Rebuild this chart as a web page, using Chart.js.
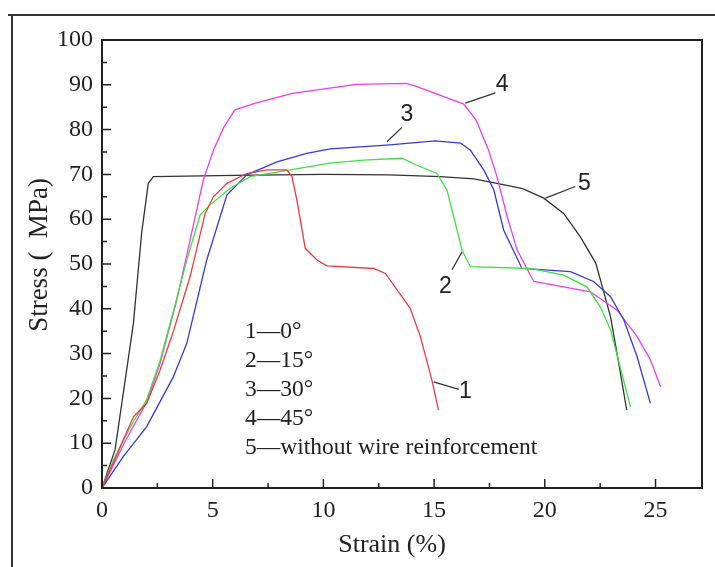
<!DOCTYPE html>
<html lang="en">
<head>
    <meta charset="UTF-8">
    <title>Stress - Strain</title>
    <script src="https://cdn.jsdelivr.net/npm/chart.js"></script>
    <style>
        body { margin: 0; background: #fff; }
        #wrap { width: 715px; height: 567px; }
    </style>
</head>
<body>
    <div id="wrap">
        <canvas id="stressChart" width="715" height="567"></canvas>
    </div>

    <script>
        // Axis ticks
        var xTicks = [0, 5, 10, 15, 20, 25];
        var yTicks = [0, 10, 20, 30, 40, 50, 60, 70, 80, 90, 100];

        // Curve 1 - 0 deg
        var strain1 = [0, 0.5, 0.96, 1.42, 2.02, 2.62, 3.22, 3.98, 4.66, 5.03, 5.64, 6.54, 7.45, 8.35, 8.58, 8.8, 9.18, 9.71, 10.16, 12.27, 12.8, 13.92, 14.38, 14.9, 15.2];
        var stress1 = [0, 5.5, 10.7, 15.9, 18.9, 26.3, 34.9, 47.2, 61.3, 65.0, 68.0, 70.2, 71.0, 71.0, 69.5, 64.3, 53.5, 50.9, 49.6, 49.0, 47.9, 40.1, 33.8, 24.1, 17.4];

        // Curve 2 - 15 deg
        var strain2 = [0, 0.5, 1.0, 1.5, 2.0, 2.6, 3.2, 3.83, 4.43, 4.88, 5.79, 6.69, 8.5, 10.3, 11.8, 13.55, 14.2, 15.13, 15.58, 15.96, 16.26, 16.64, 19.35, 20.85, 21.9, 22.5, 22.97, 23.4, 23.87];
        var stress2 = [0, 6, 11, 15.5, 19.5, 28, 39, 50.9, 60.9, 63.2, 66.9, 69.5, 71.0, 72.5, 73.2, 73.6, 72.1, 70.2, 66.5, 59.1, 53.1, 49.4, 49.0, 47.5, 44.9, 40.5, 35.3, 27.1, 18.1];

        // Curve 3 - 30 deg
        var strain3 = [0, 0.96, 2.02, 3.22, 3.83, 4.73, 5.64, 6.54, 7.9, 9.25, 10.3, 13.0, 15.05, 16.2, 16.64, 17.24, 17.7, 18.14, 18.97, 21.16, 22.2, 22.97, 23.57, 24.17, 24.77];
        var stress3 = [0, 7.0, 13.7, 24.8, 32.3, 50.9, 65.4, 69.9, 72.8, 74.7, 75.7, 76.6, 77.5, 77.0, 75.4, 71.0, 66.5, 57.6, 49.0, 48.3, 46.1, 42.7, 37.5, 29.3, 18.9];

        // Curve 4 - 45 deg
        var strain4 = [0, 0.5, 1.0, 2.0, 2.62, 3.38, 3.98, 4.58, 5.03, 5.5, 6.0, 6.94, 8.6, 11.48, 13.74, 14.17, 16.34, 16.9, 17.46, 17.84, 18.3, 18.75, 19.5, 20.85, 22.06, 23.27, 24.17, 24.77, 25.23];
        var stress4 = [0, 5, 10, 19, 27.8, 42, 55.4, 68.8, 75.4, 80.5, 84.4, 85.9, 88.1, 90.1, 90.3, 89.7, 85.7, 82.1, 75.4, 69.5, 60.6, 53.1, 46.1, 44.9, 43.8, 39.7, 33.8, 28.6, 22.6];

        // Curve 5 - without wire reinforcement
        var strain5 = [0, 0.59, 1.42, 1.79, 2.09, 2.32, 6, 10, 13, 15.28, 16.8, 17.84, 19.0, 19.95, 20.85, 21.6, 22.3, 22.6, 22.97, 23.34, 23.7];
        var stress5 = [0, 8.5, 36.8, 56.9, 68.0, 69.5, 69.8, 70.0, 69.9, 69.5, 69.0, 68.0, 66.8, 64.7, 61.3, 56.1, 50.2, 44.9, 38.2, 27.8, 17.4];

        var curveColors = ['#f0393c', '#3fe03f', '#3838e0', '#f03cf0', '#333333'];

        // In-plot legend text
        var legendLines = ['1\u20140\u00b0', '2\u201415\u00b0', '3\u201430\u00b0', '4\u201445\u00b0', '5\u2014without wire reinforcement'];

        // Curve number labels: [label, labelX, labelY, lineFromX, lineFromY, lineToX, lineToY] in data units
        var curveLabels = [
            ['1', 16.41, 21.4, 14.98, 23.7, 16.11, 22.0],
            ['2', 15.51, 44.9, 16.26, 52.7, 15.81, 48.7],
            ['3', 13.77, 83.3, 12.87, 77.3, 13.55, 80.5],
            ['4', 18.07, 90.0, 16.41, 85.9, 17.77, 88.2],
            ['5', 21.79, 68.0, 20.03, 64.7, 21.38, 67.3]
        ];

        function toPoints(xs, ys) {
            return xs.map(function (x, i) { return { x: x, y: ys[i] }; });
        }

        var seriesX = [strain1, strain2, strain3, strain4, strain5];
        var seriesY = [stress1, stress2, stress3, stress4, stress5];

        var datasets = seriesX.map(function (xs, i) {
            return {
                label: legendLines[i],
                data: toPoints(xs, seriesY[i]),
                showLine: true,
                borderColor: curveColors[i],
                borderWidth: 1.3,
                pointRadius: 0,
                tension: 0,
                fill: false
            };
        });

        // Outer frame, plot box, inward ticks, axis titles, legend text and curve labels
        var decorPlugin = {
            id: 'decor',
            beforeDraw: function (chart) {
                var ctx = chart.ctx;
                ctx.save();
                ctx.strokeStyle = '#333';
                ctx.lineWidth = 2;
                ctx.beginPath();
                ctx.moveTo(8, 15);
                ctx.lineTo(715, 15);
                ctx.moveTo(12, 15);
                ctx.lineTo(12, 567);
                ctx.stroke();
                ctx.restore();
            },
            afterDatasetsDraw: function (chart) {
                var ctx = chart.ctx;
                var area = chart.chartArea;
                var xs = chart.scales.x;
                var ys = chart.scales.y;
                ctx.save();

                // plot box
                ctx.strokeStyle = '#222';
                ctx.lineWidth = 2;
                ctx.strokeRect(area.left, area.top, area.right - area.left, area.bottom - area.top);

                // inward ticks
                ctx.lineWidth = 1.5;
                ctx.beginPath();
                for (var v = 0; v <= xs.max; v += 2.5) {
                    var px = xs.getPixelForValue(v);
                    var len = (v % 5 === 0) ? 9 : 5;
                    ctx.moveTo(px, area.bottom);
                    ctx.lineTo(px, area.bottom - len);
                }
                for (var w = 0; w <= ys.max; w += 5) {
                    var py = ys.getPixelForValue(w);
                    var len2 = (w % 10 === 0) ? 9 : 5;
                    ctx.moveTo(area.left, py);
                    ctx.lineTo(area.left + len2, py);
                }
                ctx.stroke();

                ctx.fillStyle = '#222';
                ctx.textBaseline = 'middle';

                // axis titles
                ctx.textAlign = 'center';
                ctx.font = '26px "Liberation Serif"';
                ctx.fillText('Strain (%)', area.left + 290, 545);
                ctx.save();
                ctx.translate(40, 255);
                ctx.rotate(-Math.PI / 2);
                ctx.font = '27px "Liberation Serif"';
                ctx.fillText('Stress (  MPa)', 0, 0);
                ctx.restore();

                // legend block
                ctx.font = '23.5px "Liberation Serif"';
                ctx.textAlign = 'left';
                var lx = xs.getPixelForValue(6.46);
                legendLines.forEach(function (t, i) {
                    ctx.fillText(t, lx, ys.getPixelForValue(34.9 - i * 6.5));
                });

                // curve number labels with leader lines
                ctx.font = '23px "Liberation Sans"';
                ctx.textAlign = 'center';
                ctx.lineWidth = 1.2;
                ctx.strokeStyle = '#333';
                curveLabels.forEach(function (c) {
                    ctx.beginPath();
                    ctx.moveTo(xs.getPixelForValue(c[3]), ys.getPixelForValue(c[4]));
                    ctx.lineTo(xs.getPixelForValue(c[5]), ys.getPixelForValue(c[6]));
                    ctx.stroke();
                    ctx.fillText(c[0], xs.getPixelForValue(c[1]), ys.getPixelForValue(c[2]));
                });
                ctx.restore();
            }
        };

        var stressChart = new Chart(document.getElementById('stressChart'), {
            type: 'scatter',
            data: { datasets: datasets },
            options: {
                responsive: false,
                animation: false,
                layout: { padding: { top: 40, right: 13, left: 0, bottom: 0 } },
                plugins: {
                    legend: { display: false },
                    tooltip: { enabled: false }
                },
                scales: {
                    x: {
                        type: 'linear',
                        min: 0,
                        max: 27.1,
                        afterBuildTicks: function (scale) {
                            scale.ticks = xTicks.map(function (v) { return { value: v }; });
                        },
                        afterFit: function (scale) { scale.height = 79; },
                        grid: { display: false, drawTicks: false },
                        border: { display: false },
                        ticks: {
                            padding: 8,
                            color: '#222',
                            font: { family: 'Liberation Serif', size: 24 }
                        }
                    },
                    y: {
                        type: 'linear',
                        min: 0,
                        max: 100,
                        afterBuildTicks: function (scale) {
                            scale.ticks = yTicks.map(function (v) { return { value: v }; });
                        },
                        afterFit: function (scale) { scale.width = 102; },
                        grid: { display: false, drawTicks: false },
                        border: { display: false },
                        ticks: {
                            padding: 9,
                            color: '#222',
                            font: { family: 'Liberation Serif', size: 24 }
                        }
                    }
                }
            },
            plugins: [decorPlugin]
        });
    </script>
</body>
</html>
